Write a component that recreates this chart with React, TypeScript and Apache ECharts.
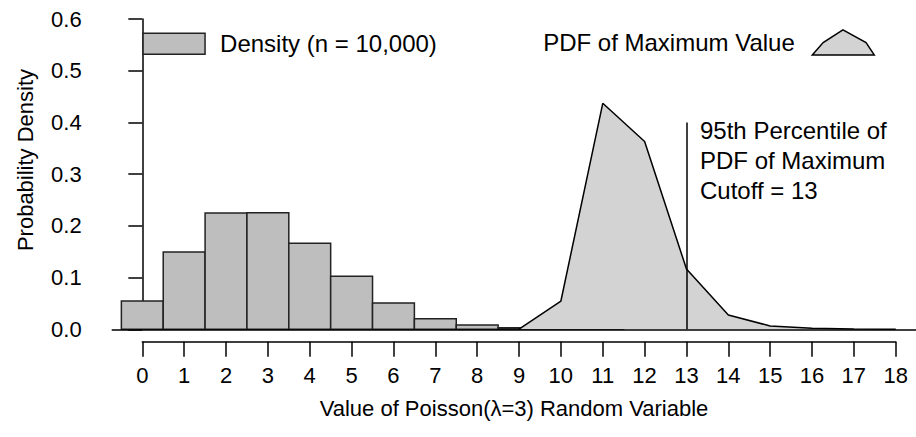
import React, { useEffect, useRef } from "react";
import * as echarts from "echarts";

// ---- data ----
const histX = [0, 1, 2, 3, 4, 5, 6, 7, 8, 9, 10, 11];
const histDensity = [0.0547, 0.1495, 0.2249, 0.2255, 0.1663, 0.1025, 0.0509, 0.0205, 0.0083, 0.0028, 0.0008, 0.0002];
const pdfX = [9, 10, 11, 12, 13, 14, 15, 16, 17, 18];
const pdfMax = [0.0005, 0.0547, 0.437, 0.363, 0.1166, 0.0276, 0.0064, 0.0022, 0.0006, 0.0001];
const xTickLabels = ["0", "1", "2", "3", "4", "5", "6", "7", "8", "9", "10", "11", "12", "13", "14", "15", "16", "17", "18"];
const yTicks = [0, 0.1, 0.2, 0.3, 0.4, 0.5, 0.6];
const cutoffValue = 13;
const cutoffLineTop = 0.4;
const histName = "Density (n = 10,000)";
const pdfName = "PDF of Maximum Value";
const annotationLines = ["95th Percentile of", "PDF of Maximum", "Cutoff = 13"];
const xTitle = "Value of Poisson(\u03bb=3) Random Variable";
const yTitle = "Probability Density";

const FONT = "'Liberation Sans', Arial, Helvetica, sans-serif";
const INK = "#000";

export default function App() {
  const ref = useRef<HTMLDivElement>(null);
  useEffect(() => {
    document.body.style.margin = "0";
    if (!ref.current) return;
    const chart = echarts.init(ref.current, undefined, { renderer: "svg" });
    const option: any = {
      animation: false,
      backgroundColor: "#fff",
      textStyle: { fontFamily: FONT, color: INK },
      grid: [
        { left: 111.7, right: 0, top: 19, bottom: 107.7 },
        { left: 142.3, right: 20.3, top: 335, bottom: 95.3 },
      ],
      xAxis: [
        { gridIndex: 0, type: "value", min: -0.731, max: 18.483, show: false },
        {
          gridIndex: 1,
          type: "category",
          data: xTickLabels,
          boundaryGap: false,
          axisLine: { show: true, lineStyle: { color: INK, width: 1.5 } },
          axisTick: { show: true, length: 15, interval: 0, lineStyle: { color: INK, width: 1.5 } },
          axisLabel: { interval: 0, fontSize: 22, margin: 23, color: INK, fontFamily: FONT },
          splitLine: { show: false },
        },
      ],
      yAxis: [
        {
          gridIndex: 0,
          type: "value",
          min: yTicks[0],
          max: yTicks[yTicks.length - 1],
          interval: 0.1,
          axisLine: { show: true, lineStyle: { color: INK, width: 1.5 } },
          axisTick: { show: true, length: 14, lineStyle: { color: INK, width: 1.5 } },
          axisLabel: { fontSize: 22, margin: 30, color: INK, fontFamily: FONT, formatter: (v: number) => v.toFixed(1) },
          splitLine: { show: false },
        },
        { gridIndex: 1, type: "value", min: 0, max: 1, show: false },
      ],
      legend: [
        {
          left: 142.3,
          top: 31.8,
          padding: 0,
          itemWidth: 62,
          itemHeight: 21,
          data: [
            {
              name: histName,
              icon: "rect",
              itemStyle: { color: "#bebebe", borderColor: "#222", borderWidth: 1.5 },
            },
          ],
          textStyle: { fontSize: 24, lineHeight: 24, color: INK, fontFamily: FONT, padding: [0, 0, 0, 10] },
        },
        {
          right: 41,
          top: 29.2,
          padding: 0,
          align: "right",
          itemWidth: 63,
          itemHeight: 25,
          data: [
            {
              name: pdfName,
              icon: "path://M0,25.3 L11,12.7 L31,0 L54.4,12.7 L62.7,25.3 Z",
              itemStyle: { color: "#d3d3d3", borderColor: "#000", borderWidth: 1.5 },
            },
          ],
          textStyle: { fontSize: 24, lineHeight: 24, color: INK, fontFamily: FONT, padding: [0, 12, 0, 0] },
        },
      ],
      series: [
        {
          name: histName,
          type: "custom",
          xAxisIndex: 0,
          yAxisIndex: 0,
          data: histX.map((x, i) => [x, histDensity[i]]),
          renderItem: (params: any, api: any) => {
            const x = api.value(0);
            const y = api.value(1);
            const p0 = api.coord([x - 0.5, 0]);
            const p1 = api.coord([x + 0.5, y]);
            return {
              type: "rect",
              shape: { x: p0[0], y: p1[1], width: p1[0] - p0[0], height: p0[1] - p1[1] },
              style: { fill: "#bebebe", stroke: "#222", lineWidth: 1.5 },
            };
          },
          itemStyle: { color: "#bebebe", borderColor: "#222", borderWidth: 1.5 },
        },
        {
          name: pdfName,
          type: "line",
          xAxisIndex: 0,
          yAxisIndex: 0,
          data: pdfX.map((x, i) => [x, pdfMax[i]]),
          showSymbol: false,
          symbol: "none",
          lineStyle: { color: INK, width: 1.5 },
          itemStyle: { color: "#d3d3d3" },
          areaStyle: { color: "#d3d3d3", opacity: 1 },
          markLine: {
            silent: true,
            symbol: "none",
            label: { show: false },
            lineStyle: { color: INK, width: 1.5, type: "solid" },
            data: [
              { yAxis: 0 },
              [
                { coord: [cutoffValue, 0] },
                { coord: [cutoffValue, cutoffLineTop] },
              ],
            ],
          },
        },
      ],
      graphic: [
        {
          type: "text",
          x: 514,
          y: 408,
          style: { text: xTitle, fontSize: 22, fontFamily: FONT, fill: INK, align: "center", verticalAlign: "middle" },
        },
        {
          type: "text",
          x: 25,
          y: 160,
          rotation: Math.PI / 2,
          style: { text: yTitle, fontSize: 22, fontFamily: FONT, fill: INK, align: "center", verticalAlign: "middle" },
        },
        {
          type: "text",
          x: 700,
          y: 115,
          style: {
            text: annotationLines.join("\n"),
            fontSize: 24,
            lineHeight: 30,
            fontFamily: FONT,
            fill: INK,
            align: "left",
            verticalAlign: "top",
          },
        },
      ],
    };
    chart.setOption(option);
    return () => chart.dispose();
  }, []);
  return <div ref={ref} style={{ width: 916, height: 437 }} />;
}
